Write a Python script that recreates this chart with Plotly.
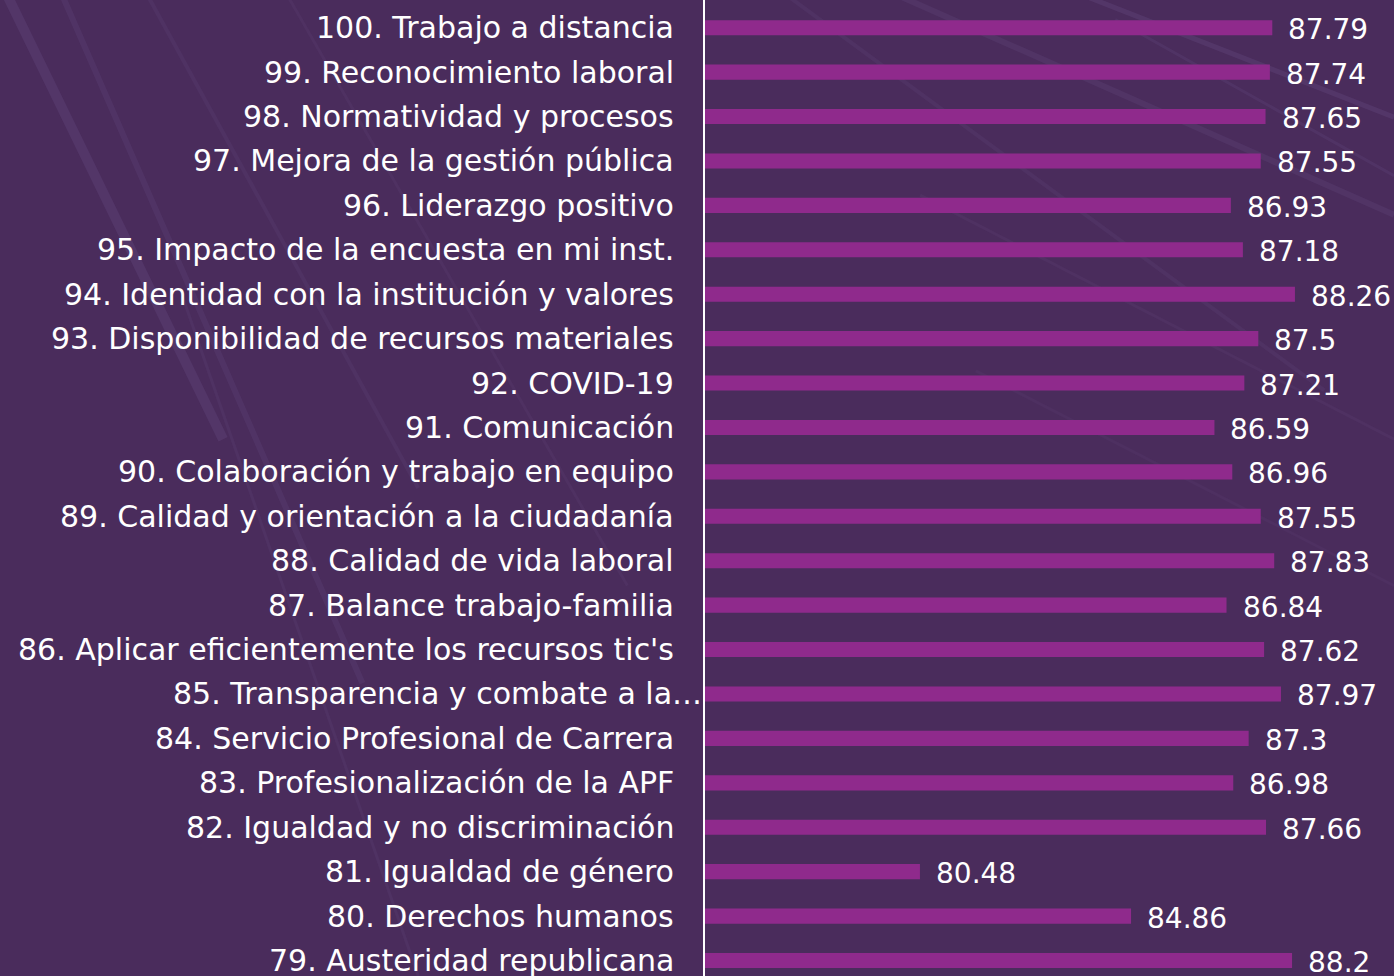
import plotly.graph_objects as go

# Data (bottom to top)
labels = [
    "79. Austeridad republicana",
    "80. Derechos humanos",
    "81. Igualdad de género",
    "82. Igualdad y no discriminación",
    "83. Profesionalización de la APF",
    "84. Servicio Profesional de Carrera",
    "85. Transparencia y combate a la…",
    "86. Aplicar eficientemente los recursos tic's",
    "87. Balance trabajo-familia",
    "88. Calidad de vida laboral",
    "89. Calidad y orientación a la ciudadanía",
    "90. Colaboración y trabajo en equipo",
    "91. Comunicación",
    "92. COVID-19",
    "93. Disponibilidad de recursos materiales",
    "94. Identidad con la institución y valores",
    "95. Impacto de la encuesta en mi inst.",
    "96. Liderazgo positivo",
    "97. Mejora de la gestión pública",
    "98. Normatividad y procesos",
    "99. Reconocimiento laboral",
    "100. Trabajo a distancia",
]
values = [88.2, 84.86, 80.48, 87.66, 86.98, 87.3, 87.97, 87.62, 86.84, 87.83,
          87.55, 86.96, 86.59, 87.21, 87.5, 88.26, 87.18, 86.93, 87.55, 87.65,
          87.74, 87.79]
value_text = [f"{v:g}" for v in values]

BG = "#4a2c5c"
BAR = "#8f2a8c"
LABEL_FONT = dict(family="DejaVu Sans", size=30, color="white")
VALUE_FONT = dict(family="DejaVu Sans", size=28, color="white")

fig = go.Figure()
fig.add_trace(go.Bar(
    x=values, y=labels, orientation="h",
    marker=dict(color=BAR, line=dict(width=0)),
    width=0.34,
))

annotations = []
for lab, v, t in zip(labels, values, value_text):
    annotations.append(dict(
        x=v, y=lab, xref="x", yref="y", text=t, showarrow=False,
        xanchor="left", yanchor="middle", xshift=14, yshift=-2,
        font=VALUE_FONT,
    ))
    annotations.append(dict(
        x=0, y=lab, xref="paper", yref="y", text=lab, showarrow=False,
        xanchor="right", yanchor="middle",
        xshift=(0 if lab.endswith("…") else -28),
        font=LABEL_FONT,
    ))

# decorative background streaks (photo-like light trails)
streaks = [
    (0.00, 1.02, 0.16, 0.55, 0.10, 10),
    (0.04, 1.02, 0.26, 0.30, 0.07, 6),
    (0.10, 1.02, 0.30, 0.50, 0.06, 4),
    (0.13, 0.70, 0.30, 0.00, 0.06, 3),
    (0.20, 1.02, 0.45, 0.40, 0.05, 3),
    (0.55, 1.02, 0.95, 0.60, 0.06, 4),
    (0.62, 1.02, 1.00, 0.78, 0.08, 6),
    (0.75, 1.02, 1.00, 0.88, 0.10, 5),
    (0.80, 0.98, 1.00, 0.82, 0.07, 3),
    (0.66, 0.80, 1.00, 0.55, 0.05, 3),
    (0.70, 0.62, 1.00, 0.40, 0.04, 3),
]
shapes = []
for x0, y0, x1, y1, op, w in streaks:
    shapes.append(dict(type="line", xref="paper", yref="paper",
                       x0=x0 * 1394 / 690 - 704 / 690, y0=y0,
                       x1=x1 * 1394 / 690 - 704 / 690, y1=y1,
                       line=dict(color="rgba(170,150,220,%.2f)" % op, width=w),
                       layer="below"))
shapes.append(dict(type="line", xref="paper", yref="paper", x0=0, x1=0,
                   y0=0, y1=1, line=dict(color="white", width=2)))

fig.update_layout(
    width=1394, height=976,
    margin=dict(l=704, r=0, t=0, b=0),
    paper_bgcolor=BG, plot_bgcolor="rgba(0,0,0,0)",
    showlegend=False,
    xaxis=dict(range=[76, 90.315], visible=False, showgrid=False, zeroline=False),
    yaxis=dict(type="category", range=[-0.349, 21.624], showticklabels=False,
               showgrid=False, zeroline=False, ticks=""),
    annotations=annotations,
    shapes=shapes,
    font=dict(family="DejaVu Sans", color="white"),
)

fig.write_html("out.html")
